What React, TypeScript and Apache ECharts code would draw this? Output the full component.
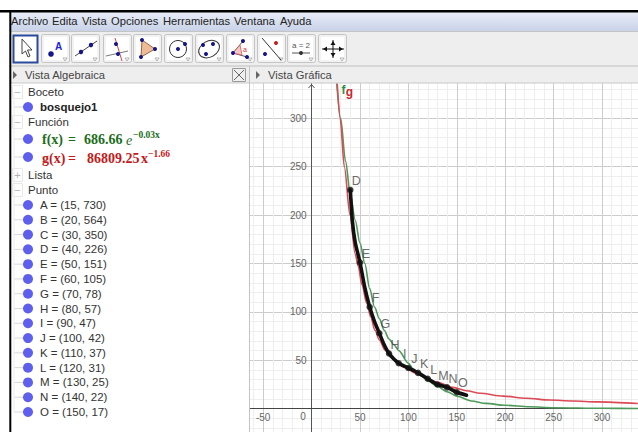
import React, { useEffect, useRef } from "react";
import * as echarts from "echarts";

const pointNames = ["A", "B", "C", "D", "E", "F", "G", "H", "I", "J", "K", "L", "M", "N", "O"];
const pointX = [15, 20, 30, 40, 50, 60, 70, 80, 90, 100, 110, 120, 130, 140, 150];
const pointY = [730, 564, 350, 226, 151, 105, 78, 57, 47, 42, 37, 31, 25, 22, 17];

const sketchX = [40, 42, 45, 50, 55, 60, 65, 70, 75, 80, 90, 100, 110, 120, 130, 140, 150, 160];
const sketchY = [226, 195, 172, 151, 125, 105, 90, 78, 66, 57, 47, 42, 37, 31, 25, 22, 17, 14];

const greenX = [26, 30, 35, 40, 45, 50, 55, 60, 65, 70, 75, 80, 85, 90, 100, 105, 110, 120, 130, 140, 150, 165, 180, 200, 225, 250, 300, 337];
const greenY = [336, 300, 256, 222, 195, 171, 150, 124, 105, 93, 81, 72, 66, 60, 47, 41, 37, 29, 23, 17.5, 13, 8, 5.5, 3.5, 2, 1, 0.4, 0.2];

const redX = [26.5, 29.5, 33.8, 39.7, 45, 48.2, 52, 57, 61, 65.5, 70, 75.8, 82, 88, 95, 108, 118, 129, 146, 160, 174, 198, 222, 246, 270, 295, 337];
const redY = [336, 300, 250, 200, 160, 147, 128, 109, 95, 81, 71, 60.6, 53, 47.5, 43, 36.5, 32, 27.5, 22, 18.5, 16, 13, 10.8, 9, 8, 7, 5.3];

const menuItems = ["Archivo", "Edita", "Vista", "Opciones", "Herramientas", "Ventana", "Ayuda"];
const menuPos = [11, 52, 82, 111, 163, 234, 280];

const zz = 100;
const UI = '"Liberation Sans", Arial, sans-serif';
const SER = '"Liberation Serif", serif';
const T = (text: string, x: number, y: number, fill: string, font: string, align = "left") => ({
  type: "text", z: zz + 2, silent: true,
  style: { text, x, y, fill, font, textAlign: align, textVerticalAlign: "middle" },
});
const R = (x: number, y: number, w: number, h: number, fill: string, stroke?: string, lw = 1, r = 0) => ({
  type: "rect", z: zz, silent: true, shape: { x, y, width: w, height: h, r },
  style: { fill, stroke: stroke || "none", lineWidth: lw },
});
const L = (x1: number, y1: number, x2: number, y2: number, stroke: string, lw = 1) => ({
  type: "line", z: zz + 1, silent: true, shape: { x1, y1, x2, y2 }, style: { stroke, lineWidth: lw },
});
const C = (cx: number, cy: number, r: number, fill: string, stroke = "none", lw = 1, z = zz + 2) => ({
  type: "circle", z, silent: true, shape: { cx, cy, r }, style: { fill, stroke, lineWidth: lw },
});
const P = (points: number[][], fill: string, stroke = "none", lw = 1) => ({
  type: "polygon", z: zz + 1, silent: true, shape: { points }, style: { fill, stroke, lineWidth: lw },
});

const NAVY = "#14148c";

function buildUi() {
  const e: any[] = [];
  // page frame
  e.push(R(0, 0, 700, 10, "#ffffff"));
  e.push(R(9, 12, 691, 19, "#d4dcee"));
  e[e.length - 1].style.fill = new echarts.graphic.LinearGradient(0, 0, 0, 1, [
    { offset: 0, color: "#e9edf7" }, { offset: 1, color: "#c8d2e8" },
  ]);
  e.push(R(9, 31, 691, 35, "#eeeeee"));
  e.push(L(9, 31.5, 700, 31.5, "#c4c4c4"));
  e.push(R(9, 66, 691, 17, "#eeeeee"));
  e.push(L(9, 66, 700, 66, "#c0c0c0"));
  e.push(L(9, 83, 700, 83, "#c8c8c8"));
  e.push(R(0, 83, 249, 420, "#ffffff"));
  e.push(L(249.5, 66, 249.5, 500, "#c4c4c4"));
  e.push(R(0, 10, 700, 2.4, "#000000"));
  e[e.length - 1].z = zz + 5;
  e.push(R(0, 0, 9.3, 500, "#ffffff"));
  e[e.length - 1].z = zz + 4;
  e.push(R(9.3, 10, 2, 490, "#000000"));
  e[e.length - 1].z = zz + 5;

  // menu
  menuItems.forEach((m, i) => e.push(T(m, menuPos[i], 21, "#222222", `11.2px ${UI}`)));

  // toolbar buttons
  const starts = [41, 71, 103, 133, 164, 195, 226, 257, 287, 318];
  e.push(R(13.5, 35.5, 24, 27, "#ffffff", "#2a4a9c", 2));
  e.push(P([[22, 39], [22, 54], [25.5, 51], [28, 57], [30, 56], [27.5, 50], [32, 50]], "#ffffff", "#444444", 1));
  starts.forEach((s) => {
    e.push(R(s + 0.5, 34.5, 28, 28, "#f2f2f2", "#c4c4c4", 1, 2));
    e.push(R(s + 3, 37, 23, 23, "#ffffff"));
    e.push(P([[s + 22, 58], [s + 26, 58], [s + 24, 61]], "#ffffff", "#999999", 0.7));
  });
  // point
  e.push(C(51, 54, 2.8, NAVY));
  e.push(T("A", 55, 46, "#2222dd", `bold 10px ${UI}`));
  // line
  e.push(L(75, 56, 97, 41, "#444444", 1));
  e.push(C(81, 52, 2.2, NAVY));
  e.push(C(91, 45, 2.2, NAVY));
  // perpendicular
  e.push(L(106, 56, 128, 51, "#777777", 1));
  e.push(L(115, 38, 122, 61, "#dd4444", 1));
  e.push(C(116, 44, 2, NAVY));
  e.push(C(118, 54, 2, NAVY));
  // triangle
  e.push(P([[142, 40], [155, 49], [141, 57]], "#eebb99", "#996644", 1));
  e.push(C(142, 40, 2, NAVY));
  e.push(C(155, 49, 2, NAVY));
  e.push(C(141, 57, 2, NAVY));
  // circle
  e.push(C(178, 49, 8.5, "none", "#333333", 1));
  e.push(C(178, 49, 2, NAVY));
  e.push(C(185, 44, 2, NAVY));
  // conic
  e.push({ type: "ellipse", z: zz + 1, silent: true, rotation: 0.5, originX: 209, originY: 49, shape: { cx: 209, cy: 49, rx: 11, ry: 8 }, style: { fill: "none", stroke: "#333333", lineWidth: 1 } });
  e.push(C(203, 45, 2, NAVY));
  e.push(C(206, 54, 2, NAVY));
  e.push(C(213, 44, 2, NAVY));
  // angle
  e.push(L(233, 53, 243, 41, "#555555", 1));
  e.push(L(233, 53, 247, 57, "#555555", 1));
  e.push(P([[233, 53], [240, 45], [242, 55]], "#f4c8c8", "#dd5555", 0.8));
  e.push(C(243, 41, 2, NAVY));
  e.push(C(233, 53, 2, NAVY));
  e.push(C(247, 57, 2, NAVY));
  e.push(T("a", 243, 49, "#dd3333", `7px ${UI}`));
  // reflect
  e.push(L(262, 38, 281, 60, "#333333", 1));
  e.push(C(276, 43, 2, "#bb2222"));
  e.push(C(265, 54, 2, NAVY));
  // slider
  e.push(T("a = 2", 301, 45, "#555555", `8px ${UI}`, "center"));
  e.push(L(292, 53, 310, 53, "#555555", 1));
  e.push(C(301, 53, 2, "#333333"));
  // move
  e.push(L(322, 49, 344, 49, "#111111", 1));
  e.push(L(333, 40, 333, 58, "#111111", 1));
  e.push(P([[323, 49], [327, 46.5], [327, 51.5]], "#111111"));
  e.push(P([[343, 49], [339, 46.5], [339, 51.5]], "#111111"));
  e.push(P([[333, 41], [330.5, 45], [335.5, 45]], "#111111"));
  e.push(P([[333, 57], [330.5, 53], [335.5, 53]], "#111111"));

  // view headers
  e.push(P([[13, 71], [17, 75], [13, 79]], "#666666"));
  e.push(T("Vista Algebraica", 25, 75, "#444444", `11.2px ${UI}`));
  e.push(R(232.5, 68.5, 13, 13, "#f0f0f0", "#9a9a9a", 1));
  e.push(L(234, 70, 244, 80, "#666666", 1));
  e.push(L(244, 70, 234, 80, "#666666", 1));
  e.push(P([[256, 71], [260, 75], [256, 79]], "#666666"));
  e.push(T("Vista Gráfica", 268, 75, "#444444", `11.2px ${UI}`));

  // algebra tree: groups
  const groupRow = (label: string, y: number, sign = "−") => {
    e.push(R(12.5, y - 6.5, 10, 13, "#ffffff", "#e8e8e8", 1));
    e.push(T(sign, 17.5, y, "#b0b0b0", `11px ${UI}`, "center"));
    e.push(T(label, 28, y, "#333333", `11.5px ${UI}`));
  };
  const bullet = (y: number) => {
    e.push(L(14, y, 24, y, "#d8d8d8", 1));
    e.push(C(28, y, 5, "#5f5fee"));
  };
  groupRow("Boceto", 92);
  bullet(107);
  e.push(T("bosquejo1", 40, 107, "#222222", `bold 11.5px ${UI}`));
  groupRow("Función", 122);
  bullet(139);
  const G = "#1b6e1b";
  e.push(T("f(x)", 42, 139, G, `bold 14px ${SER}`));
  e.push(T("=", 68, 139, G, `bold 14px ${SER}`));
  e.push(T("686.66", 84, 139, G, `bold 14px ${SER}`));
  e.push(T("e", 126, 140, G, `italic 14px ${SER}`));
  e.push(T("−0.03x", 133, 135, G, `bold 9.5px ${SER}`));
  bullet(157);
  const Rd = "#c31a1a";
  e.push(T("g(x)", 42, 158, Rd, `bold 14px ${SER}`));
  e.push(T("=", 68, 158, Rd, `bold 14px ${SER}`));
  e.push(T("86809.25", 87, 158, Rd, `bold 14px ${SER}`));
  e.push(T("x", 141, 158, Rd, `bold 14px ${SER}`));
  e.push(T("−1.66", 148, 154, Rd, `bold 9.5px ${SER}`));
  groupRow("Lista", 175, "+");
  groupRow("Punto", 190);
  pointNames.forEach((n, i) => {
    const y = 205 + (i * (412 - 205)) / 14;
    bullet(y);
    e.push(T(`${n} = (${pointX[i]}, ${pointY[i]})`, 40, y, "#333333", `11.5px ${UI}`));
  });
  e.push(L(14, 92, 14, 412, "#ececec", 1));

  // plot decorations
  const arrow = { type: "polyline", z: 50, silent: true, shape: { points: [[308.5, 88], [311.5, 84.5], [314.5, 88]] }, style: { fill: "none", stroke: "#555555", lineWidth: 1 } };
  e.push(arrow);
  e.push({ ...T("0", 303, 416, "#666666", `10px ${UI}`, "center"), z: 50 });
  e.push({ ...T("f", 343.5, 90, "#2f8f3f", `bold 12px ${UI}`, "center"), z: 50 });
  e.push({ ...T("g", 349.5, 92, "#d0252f", `bold 12px ${UI}`, "center"), z: 50 });
  return e;
}

export default function App() {
  const ref = useRef<HTMLDivElement>(null);
  useEffect(() => {
    document.body.style.margin = "0";
    const chart = echarts.init(ref.current!, null, { renderer: "svg" });
    const pxX = 0.968;
    const pxY = 0.968;
    const x0 = 311.6;
    const y0 = 408.7;
    const W = 700;
    const H = 500;
    chart.setOption({
      animation: false,
      backgroundColor: "#ffffff",
      grid: {
        left: x0 - 100 * pxX,
        right: W - (x0 + 350 * pxX),
        top: y0 - 350 * pxY,
        bottom: H - (y0 + 50 * pxY),
      },
      xAxis: {
        type: "value", min: -100, max: 350, interval: 50,
        offset: -50 * pxY,
        axisLine: { onZero: false, lineStyle: { color: "#444444", width: 1 } },
        axisTick: { show: false },
        axisLabel: {
          color: "#666666", fontSize: 10, fontFamily: "Liberation Sans", margin: 4,
          formatter: (v: number) => (v === 0 || v === -100 || v === 350 ? "" : String(v)),
        },
        splitLine: { show: true, lineStyle: { color: "#cccccc", width: 1 } },
        minorTick: { show: false, splitNumber: 5 },
        minorSplitLine: { show: true, lineStyle: { color: "#eeeeee", width: 1 } },
      },
      yAxis: {
        type: "value", min: -50, max: 350, interval: 50,
        offset: -100 * pxX,
        axisLine: { onZero: false, lineStyle: { color: "#555555", width: 1 } },
        axisTick: { show: false },
        axisLabel: {
          color: "#666666", fontSize: 10, fontFamily: "Liberation Sans", margin: 5,
          formatter: (v: number) => (v <= 0 || v === 350 ? "" : String(v)),
        },
        splitLine: { show: true, lineStyle: { color: "#cccccc", width: 1 } },
        minorTick: { show: false, splitNumber: 5 },
        minorSplitLine: { show: true, lineStyle: { color: "#eeeeee", width: 1 } },
      },
      series: [
        {
          type: "line", name: "f", showSymbol: false, smooth: 0.3, smoothMonotone: "x",
          data: greenX.map((x, i) => [x, greenY[i]]),
          lineStyle: { color: "#4d9a5a", width: 1.6 },
        },
        {
          type: "line", name: "g", showSymbol: false, smooth: 0.3, smoothMonotone: "x",
          data: redX.map((x, i) => [x, redY[i]]),
          lineStyle: { color: "#dc4a55", width: 1.6 },
        },
        {
          type: "line", name: "bosquejo1", showSymbol: false, smooth: 0.2,
          data: sketchX.map((x, i) => [x, sketchY[i]]),
          lineStyle: { color: "#111111", width: 3.6, cap: "round", join: "round" },
        },
        {
          type: "scatter", name: "Punto", symbolSize: 6.5,
          itemStyle: { color: "#111111" },
          data: pointNames.map((n, i) => ({ name: n, value: [pointX[i], pointY[i]] })),
          label: {
            show: true, position: "top", distance: 3, offset: [6, 4],
            formatter: (p: any) => p.name, color: "#444444", fontSize: 12.5, fontFamily: "Liberation Sans",
          },
          z: 5,
        },
      ],
      graphic: { elements: buildUi() },
    });
    return () => chart.dispose();
  }, []);
  return (
    <div style={{ width: 638, height: 432, overflow: "hidden", position: "fixed", left: 0, top: 0 }}>
      <div ref={ref} style={{ width: 700, height: 500 }} />
    </div>
  );
}
